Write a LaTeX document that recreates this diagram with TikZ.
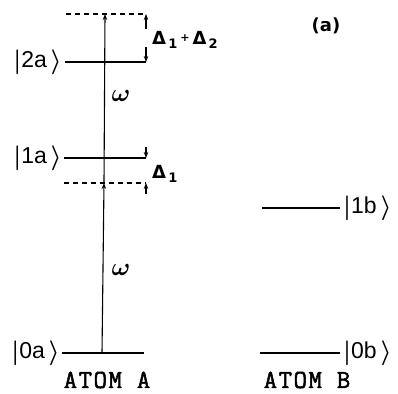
\documentclass[tikz,border=0pt]{standalone}
\usepackage{amsmath}
\usepackage{fontspec}
\newfontfamily\djv{DejaVu Sans}
\newfontfamily\ketfont{Liberation Sans}
\newfontfamily\atomfont{Latin Modern Mono}[FakeBold=2,LetterSpace=6]
\usetikzlibrary{arrows.meta}
\newcommand{\rket}{\,\raisebox{-1pt}{\fontsize{31}{31}\selectfont$\boldsymbol{\rangle}$}}
\newcommand{\lket}{\raisebox{-1pt}{\fontsize{29}{29}\selectfont$\boldsymbol{|}$}}
\begin{document}
\begin{tikzpicture}[x=1pt,y=-1pt,
  level/.style={line width=1.1pt},
  dashlevel/.style={line width=1.1pt,dash pattern=on 5pt off 4pt},
  arr/.style={line width=1.1pt,-{Stealth[length=6pt,width=4.5pt]}},
  ket/.style={font=\fontsize{23}{23}\selectfont\ketfont,inner sep=0pt},
  atom/.style={font=\fontsize{26}{26}\selectfont\atomfont,inner sep=0pt},
  omega/.style={font=\fontsize{26}{26}\selectfont,inner sep=0pt},
  dlabel/.style={font=\fontsize{18}{18}\selectfont\djv\bfseries,inner sep=0pt}]
\useasboundingbox (0,0) rectangle (398,393);
% atom A levels
\coordinate (t0) at (66,14);   \coordinate (t1) at (146,14);
\coordinate (a2l) at (65,62);  \coordinate (a2r) at (146,62);
\coordinate (a1l) at (64,158); \coordinate (a1r) at (146,158);
\coordinate (v0) at (64,183);  \coordinate (v1) at (146,183);
\coordinate (a0l) at (62,353); \coordinate (a0r) at (144,353);
\draw[dashlevel] (t0) -- (t1);
\draw[level] (a2l) -- (a2r);
\draw[level] (a1l) -- (a1r);
\draw[dashlevel] (v0) -- (v1);
\draw[level] (a0l) -- (a0r);
% photon arrows
\coordinate (p0) at (102,353);
\coordinate (p1) at (104,183);
\coordinate (p2) at (105,14);
\draw[arr] (p0) -- (p1);
\draw[arr] (p1) -- (p2);
% detuning markers
\coordinate (m1s) at (146,29); \coordinate (m1e) at (146,14);
\coordinate (m2s) at (146,47); \coordinate (m2e) at (146,62);
\coordinate (m3s) at (146,147); \coordinate (m3e) at (146,158);
\coordinate (m4s) at (146,194); \coordinate (m4e) at (146,183);
\draw[arr] (m1s) -- (m1e);
\draw[arr] (m2s) -- (m2e);
\draw[arr] (m3s) -- (m3e);
\draw[arr] (m4s) -- (m4e);
% labels
\node[ket,anchor=east] (k2a) at (62,62) {\lket2a\rket};
\node[ket,anchor=east] (k1a) at (62,158) {\lket1a\rket};
\node[ket,anchor=east] (k0a) at (60,353) {\lket0a\rket};
\node[omega] (w1) at (121,96) {$\boldsymbol{\omega}$};
\node[omega] (w2) at (121,270) {$\boldsymbol{\omega}$};
\node[dlabel,anchor=west] (d12) at (152,40) {Δ\raisebox{-4pt}{\fontsize{13}{13}\selectfont\,1}\,\raisebox{3pt}{\fontsize{11}{11}\selectfont+}\,Δ\raisebox{-4pt}{\fontsize{13}{13}\selectfont\,2}};
\node[dlabel,anchor=west] (d1) at (152,174) {Δ\raisebox{-4pt}{\fontsize{13}{13}\selectfont\,1}};
\node[dlabel] (lab) at (326,26) {(a)};
\node[atom] (atA) at (107,380) {ATOM A};
\node[atom] (atB) at (307,380) {ATOM B};
% atom B levels
\coordinate (b1l) at (262,208); \coordinate (b1r) at (340,208);
\coordinate (b0l) at (260,353); \coordinate (b0r) at (340,353);
\draw[level] (b1l) -- (b1r);
\draw[level] (b0l) -- (b0r);
\node[ket,anchor=west] (k1b) at (343,208) {\lket1b\rket};
\node[ket,anchor=west] (k0b) at (343,353) {\lket0b\rket};
\end{tikzpicture}
\end{document}
